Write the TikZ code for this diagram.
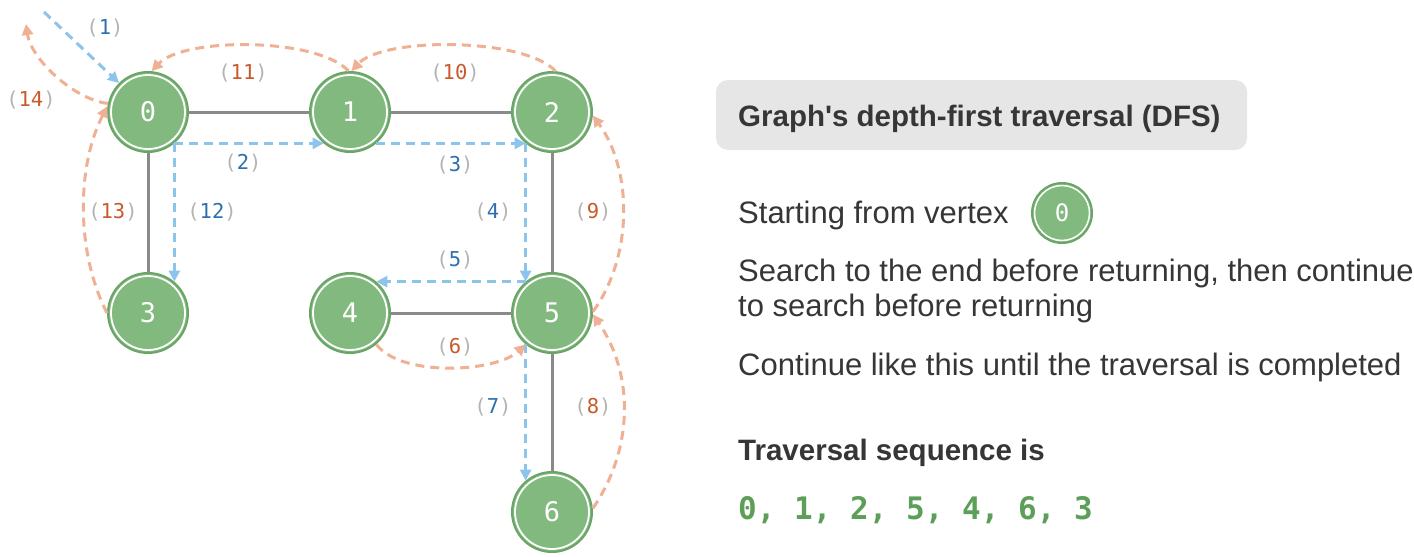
\documentclass[tikz,border=0pt]{standalone}
\usepackage{fontspec}
\setmainfont{Liberation Sans}
\newfontfamily\monof{DejaVu Sans Mono}
\usetikzlibrary{arrows.meta,calc}
\definecolor{gfill}{HTML}{82B97F}
\definecolor{gline}{HTML}{6AA567}
\definecolor{eline}{HTML}{8A8A8A}
\definecolor{bline}{HTML}{8CC4EC}
\definecolor{oline}{HTML}{F0B093}
\definecolor{btext}{HTML}{2F6FAD}
\definecolor{otext}{HTML}{C95A2C}
\definecolor{ptext}{HTML}{B4B4B4}
\definecolor{mtext}{HTML}{363636}
\definecolor{boxbg}{HTML}{E6E6E6}
\definecolor{seqg}{HTML}{5C9F58}
\newcommand\mylab[2]{\textcolor{ptext}{(}\textcolor{#1}{#2}\textcolor{ptext}{)}}
\newcommand\straightquote{{\XeTeXglyph\XeTeXglyphindex "quotesingle" \relax}}
\tikzset{
  vert/.style={circle, minimum size=80pt, inner sep=0pt, fill=gfill, draw=gline,
    line width=2pt, text=white, font=\monof\fontsize{27}{27}\selectfont,
    path picture={\draw[white,line width=1.8pt] (path picture bounding box.center) circle (37pt);}},
  smallvert/.style={vert, minimum size=60pt, font=\monof\fontsize{24}{24}\selectfont,
    path picture={\draw[white,line width=1.5pt] (path picture bounding box.center) circle (27.5pt);}},
  edge/.style={draw=eline, line width=3pt},
  blu/.style={draw=bline, line width=3pt, dash pattern=on 9pt off 6pt,
    -{Triangle[length=11pt,width=11pt]}},
  ora/.style={draw=oline, line width=3pt, dash pattern=on 9pt off 6pt,
    -{Triangle[length=11pt,width=11pt]}},
  lab/.style={inner sep=0pt, font=\monof\fontsize{20.5}{20.5}\selectfont},
  txt/.style={inner sep=0pt, anchor=base west, text=mtext, font=\fontsize{31}{37}\selectfont},
  btxt/.style={inner sep=0pt, anchor=base west, text=mtext, font=\bfseries\fontsize{29.5}{35}\selectfont},
}
\begin{document}
\begin{tikzpicture}[x=1pt,y=-1pt]
\fill[white] (0,0) rectangle (1414,557);
\useasboundingbox (0,0) rectangle (1414,557);

% vertices
\node[vert] (n0) at (148,112) {0};
\node[vert] (n1) at (350,112) {1};
\node[vert] (n2) at (552,112) {2};
\node[vert] (n3) at (148,313) {3};
\node[vert] (n4) at (350,313) {4};
\node[vert] (n5) at (552,313) {5};
\node[vert] (n6) at (552,512) {6};

% edges
\draw[edge] (n0) -- (n1);
\draw[edge] (n1) -- (n2);
\draw[edge] (n0) -- (n3);
\draw[edge] (n2) -- (n5);
\draw[edge] (n4) -- (n5);
\draw[edge] (n5) -- (n6);

% forward (blue) moves
\coordinate (s1) at (44,12);
\draw[blu] (s1) -- (n0.135);
\draw[blu] (n0.-50) -- (n1.-130);
\draw[blu] (n1.-50) -- (n2.-130);
\draw[blu] (n2.-130) -- (n5.130);
\draw[blu] (n5.130) -- (n4.50);
\draw[blu] (n5.-130) -- (n6.130);
\draw[blu] (n0.-50) -- (n3.50);

% backtracking (orange) moves
\draw[ora] (n4.-50) .. controls +(25,33) and +(-30,28) .. (n5.-130);
\draw[ora] (n6.5) .. controls +(41,-60) and +(41,60) .. (n5.-2);
\draw[ora] (n5.2) .. controls +(40,-55) and +(40,55) .. (n2.-5);
\draw[ora] (n2.85) .. controls +(-32,-34) and +(32,-34) .. (n1.88);
\draw[ora] (n1.92) .. controls +(-32,-34) and +(32,-34) .. (n0.85);
\draw[ora] (n3.180) .. controls +(-31,-60) and +(-31,60) .. (n0.172);
\coordinate (e14) at (26,24);
\draw[ora] (n0.168) .. controls +(-34,-4) and +(5,35) .. (e14);

% step labels
\node[lab] (l1) at (105,28) {\mylab{btext}{1}};
\node[lab] (l2) at (243,163) {\mylab{btext}{2}};
\node[lab] (l3) at (455,165) {\mylab{btext}{3}};
\node[lab] (l4) at (493,212) {\mylab{btext}{4}};
\node[lab] (l5) at (455,260) {\mylab{btext}{5}};
\node[lab] (l6) at (455,347) {\mylab{otext}{6}};
\node[lab] (l7) at (493,407) {\mylab{btext}{7}};
\node[lab] (l8) at (593,407) {\mylab{otext}{8}};
\node[lab] (l9) at (593,212) {\mylab{otext}{9}};
\node[lab] (l10) at (455,73) {\mylab{otext}{10}};
\node[lab] (l11) at (243,73) {\mylab{otext}{11}};
\node[lab] (l12) at (212,212) {\mylab{btext}{12}};
\node[lab] (l13) at (113,212) {\mylab{otext}{13}};
\node[lab] (l14) at (31,100) {\mylab{otext}{14}};

% right panel
\fill[boxbg, rounded corners=12pt] (716,80) rectangle (1247,150);
\node[btxt] (title) at (738,126) {Graph\straightquote s depth-first traversal (DFS)};
\node[txt] (t1) at (738,223) {Starting from vertex};
\node[smallvert] (sv) at (1062,213) {0};
\node[txt] (t2) at (738,281) {Search to the end before returning, then continue};
\node[txt] (t3) at (738,316) {to search before returning};
\node[txt] (t4) at (738,375) {Continue like this until the traversal is completed};
\node[btxt] (t5) at (738,460) {Traversal sequence is};
\node[inner sep=0pt, anchor=base west, text=seqg, font=\monof\bfseries\fontsize{31}{31}\selectfont] (seq) at (738,519) {0, 1, 2, 5, 4, 6, 3};
\end{tikzpicture}
\end{document}
